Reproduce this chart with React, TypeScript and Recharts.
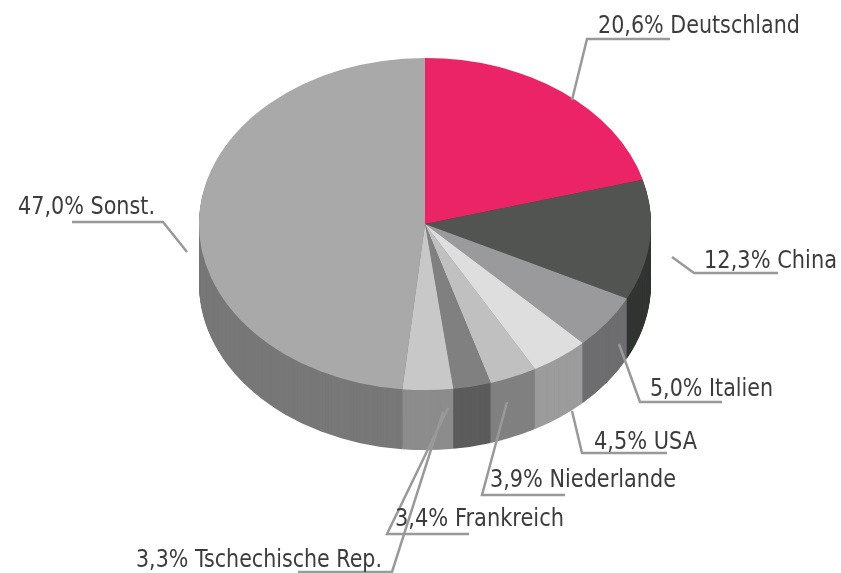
import { PieChart, Pie, Sector } from 'recharts';

const COUNTRIES = ['Deutschland', 'China', 'Italien', 'USA', 'Niederlande', 'Frankreich', 'Tschechische Rep.', 'Sonst.'];
// printed in the captions
const SHARES = [20.6, 12.3, 5.0, 4.5, 3.9, 3.4, 3.3, 47.0];
// size of the slices as they are actually drawn, the picture does not follow its captions exactly
const SLICE_SIZES = [20.7, 11.7, 5.3, 4.2, 3.4, 2.7, 3.6, 48.4];

const TOP_COLORS = ['#ea2467', '#525452', '#9a9a9c', '#dedede', '#c0c0c0', '#808080', '#c8c8c8', '#a9a9a9'];
const SIDE_COLORS = ['#a01848', '#333533', '#6e6e70', '#9c9c9c', '#808080', '#5c5c5c', '#8c8c8c', '#787878'];

// where each caption sits, how wide it runs and how its leader line goes
const LABEL_POS = [
  [598, 33],
  [704, 268],
  [650, 396],
  [594, 449],
  [490, 487],
  [395, 526],
  [136, 567],
  [18, 214],
];
const LABEL_WIDTHS = [202, 133, 123, 103, 186, 169, 246, 137];
const LEADERS = [
  '572,100 587,39 670,39',
  '672,257 694,273 778,273',
  '619,344 640,402 722,402',
  '572,411 582,453 667,453',
  '507,402 482,495 565,495',
  '448,408 387,534 469,534',
  '443,412 392,572 298,572',
  '187,252 163,222 72,222',
];

const CX = 425;
const CY = 224;
const RADIUS = 226;
const SQUASH = 0.735;
const DEPTH = 60;

const depths = Array.from({ length: DEPTH }, (_, i) => DEPTH - i);

const topData = COUNTRIES.map((name, i) => ({ name, value: SLICE_SIZES[i], fill: TOP_COLORS[i] }));
const sideData = COUNTRIES.map((name, i) => ({ name, value: SLICE_SIZES[i], fill: SIDE_COLORS[i] }));

// tilts a flat sector into the ellipse, pushed down by `offset`
const tilted = (offset: number) => (props: any) => (
  <g transform={`translate(0 ${CY + offset}) scale(1 ${SQUASH}) translate(0 ${-CY})`}>
    <Sector {...props} stroke="none" />
  </g>
);

const renderLabel = (props: any) => {
  const i = props.index;
  const [x, y] = LABEL_POS[i];
  return (
    <g key={i}>
      <polyline points={LEADERS[i]} fill="none" stroke="#999999" strokeWidth={2.5} />
      {/* no condensed face to pick by name, so squeeze the regular one */}
      <text
        x={x}
        y={y}
        textLength={LABEL_WIDTHS[i]}
        lengthAdjust="spacingAndGlyphs"
        fill="#3c3c3c"
        fontSize={25.5}
        fontFamily="'DejaVu Sans', sans-serif"
      >
        {`${SHARES[i].toFixed(1).replace('.', ',')}% ${COUNTRIES[i]}`}
      </text>
    </g>
  );
};

export default function App() {
  return (
    <div style={{ position: 'absolute', left: 0, top: 0, width: 841, height: 573, background: '#fff', filter: 'blur(0.5px)' }}>
      <PieChart width={841} height={573} margin={{ top: 0, right: 0, bottom: 0, left: 0 }}>
        {depths.map((d) => (
          <Pie
            key={d}
            data={sideData}
            dataKey="value"
            cx={CX}
            cy={CY}
            outerRadius={RADIUS}
            startAngle={90}
            endAngle={-270}
            stroke="none"
            label={false}
            labelLine={false}
            isAnimationActive={false}
            shape={tilted(d)}
          />
        ))}
        <Pie
          data={topData}
          dataKey="value"
          cx={CX}
          cy={CY}
          outerRadius={RADIUS}
          startAngle={90}
          endAngle={-270}
          stroke="none"
          labelLine={false}
          label={renderLabel}
          isAnimationActive={false}
          shape={tilted(0)}
        />
      </PieChart>
    </div>
  );
}
